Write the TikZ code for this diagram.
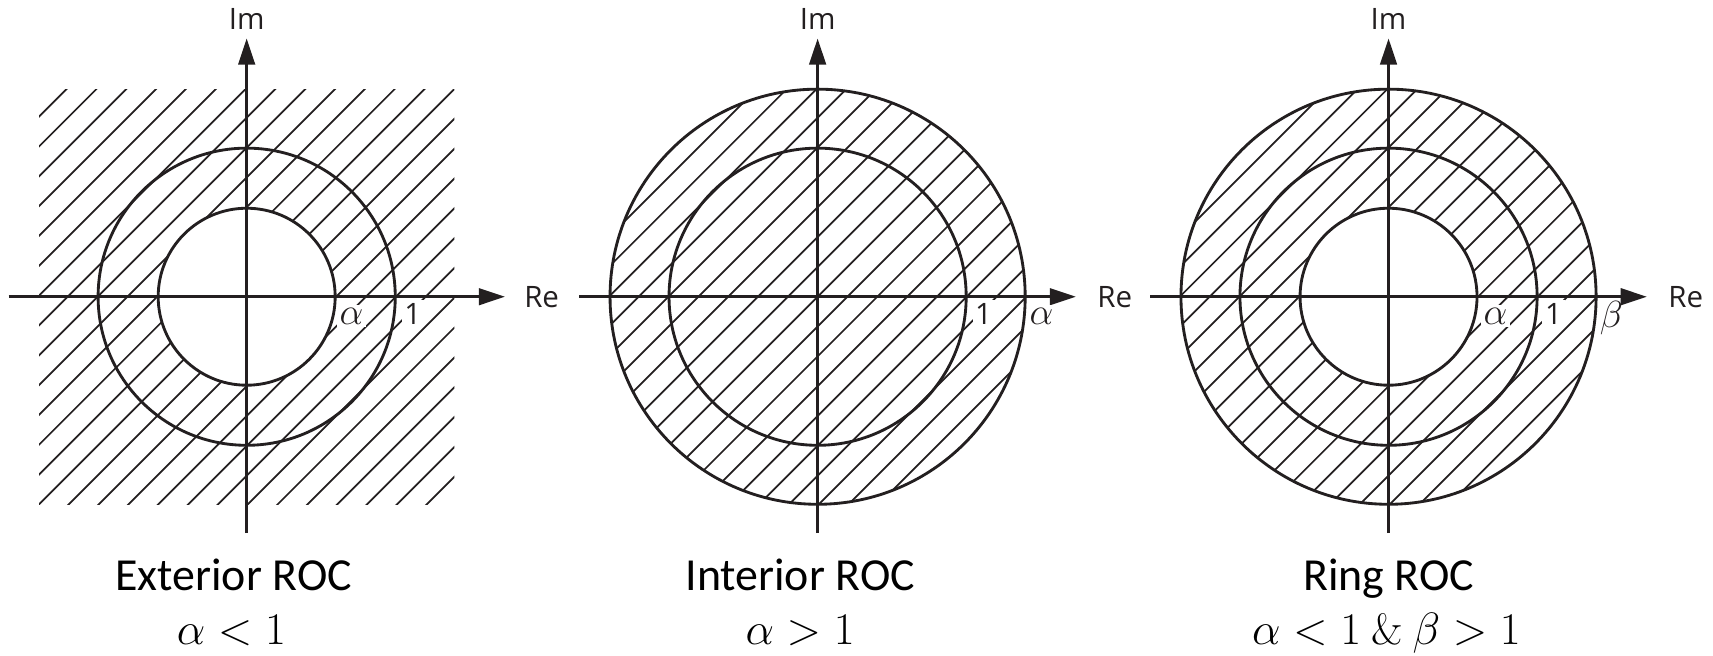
\documentclass[tikz,border=0pt]{standalone}
\usepackage{fontspec}
\setmainfont{Carlito}
\newfontfamily\labelfont{Open Sans}
\newfontfamily\lmroman{Latin Modern Roman}
\usetikzlibrary{arrows.meta}
\definecolor{ink}{HTML}{231F20}
\tikzset{
  axisarrow/.style={line width=1.5pt, draw=ink, -{Triangle[length=12pt,width=7.5pt]}},
  ringline/.style={line width=1.3pt, draw=ink},
  hatchline/.style={line width=0.8pt, draw=ink},
  axlabel/.style={font=\labelfont\fontsize{13.5}{15}\selectfont, text=ink, inner sep=0pt},
  ptlabel/.style={font=\labelfont\fontsize{13.5}{14}\selectfont, text=ink, fill=white, inner sep=1.2pt, anchor=base},
  greeklabel/.style={ptlabel, font=\fontsize{16}{16}\selectfont},
  captext/.style={font=\fontsize{21}{24}\selectfont, text=black, inner sep=0pt, anchor=base},
  capmath/.style={font=\fontsize{20}{24}\selectfont, text=black, inner sep=0pt, anchor=base},
}
\begin{document}
\begin{tikzpicture}[x=0.5pt,y=-0.5pt]
\useasboundingbox (0,0) rectangle (1568,600);

% ---------- Panel 1: Exterior ROC ----------
\begin{scope}[shift={(225.8,271.6)}]
  \coordinate (A1c) at (0,0);
  \begin{scope}
    \clip (-190,-190) rectangle (190,190);
    \foreach \k in {-15,...,15} {
      \draw[hatchline] ({\k*27.3-400},400) -- ({\k*27.3+400},-400);
    }
  \end{scope}
  \fill[white] (0,0) circle[radius=81];
  \draw[ringline] (0,0) circle[radius=81];
  \draw[ringline] (0,0) circle[radius=136];
  \coordinate (A1l) at (-218,0);
  \coordinate (A1r) at (236.5,0);
  \coordinate (A1b) at (0,216.5);
  \coordinate (A1t) at (0,-236.5);
  \draw[axisarrow] (A1l) -- (A1r);
  \draw[axisarrow] (A1b) -- (A1t);
  \node[axlabel] (A1re) at (270,0) {Re};
  \node[axlabel] (A1im) at (0,-254) {Im};
  \node[greeklabel] (A1a) at (96,25) {$\alpha$};
  \node[ptlabel] (A1one) at (152,25) {1};
  \node[captext] (A1cap) at (-12,268.5) {Exterior ROC};
  \node[capmath] (A1cond) at (-14,318) {$\alpha<1$};
\end{scope}

% ---------- Panel 2: Interior ROC ----------
\begin{scope}[shift={(748.4,271.6)}]
  \coordinate (A2c) at (0,0);
  \begin{scope}
    \clip (0,0) circle[radius=190];
    \foreach \k in {-15,...,15} {
      \draw[hatchline] ({\k*27.3-400},400) -- ({\k*27.3+400},-400);
    }
  \end{scope}
  \draw[ringline] (0,0) circle[radius=136];
  \draw[ringline] (0,0) circle[radius=190];
  \coordinate (A2l) at (-218,0);
  \coordinate (A2r) at (236.5,0);
  \coordinate (A2b) at (0,216.5);
  \coordinate (A2t) at (0,-236.5);
  \draw[axisarrow] (A2l) -- (A2r);
  \draw[axisarrow] (A2b) -- (A2t);
  \node[axlabel] (A2re) at (272,0) {Re};
  \node[axlabel] (A2im) at (0,-254) {Im};
  \node[ptlabel] (A2one) at (152,25) {1};
  \node[greeklabel] (A2a) at (205,25) {$\alpha$};
  \node[captext] (A2cap) at (-16,268.5) {Interior ROC};
  \node[capmath] (A2cond) at (-16,318) {$\alpha>1$};
\end{scope}

% ---------- Panel 3: Ring ROC ----------
\begin{scope}[shift={(1271,271.6)}]
  \coordinate (A3c) at (0,0);
  \begin{scope}
    \clip (0,0) circle[radius=190];
    \foreach \k in {-15,...,15} {
      \draw[hatchline] ({\k*27.3-400},400) -- ({\k*27.3+400},-400);
    }
  \end{scope}
  \fill[white] (0,0) circle[radius=81];
  \draw[ringline] (0,0) circle[radius=81];
  \draw[ringline] (0,0) circle[radius=136];
  \draw[ringline] (0,0) circle[radius=190];
  \coordinate (A3l) at (-218,0);
  \coordinate (A3r) at (236.5,0);
  \coordinate (A3b) at (0,216.5);
  \coordinate (A3t) at (0,-236.5);
  \node[greeklabel] (A3a) at (98,25) {$\alpha$};
  \node[ptlabel] (A3one) at (151,25) {1};
  \node[greeklabel, inner sep=0.4pt] (A3b2) at (204,28) {$\beta$};
  \draw[axisarrow] (A3l) -- (A3r);
  \draw[axisarrow] (A3b) -- (A3t);
  \node[axlabel] (A3re) at (272,0) {Re};
  \node[axlabel] (A3im) at (0,-254) {Im};
  \node[captext] (A3cap) at (0,268.5) {Ring ROC};
  \node[capmath] (A3cond) at (-2,318) {$\alpha<1\mathbin{\mbox{\lmroman\&}}\beta>1$};
\end{scope}
\end{tikzpicture}
\end{document}
